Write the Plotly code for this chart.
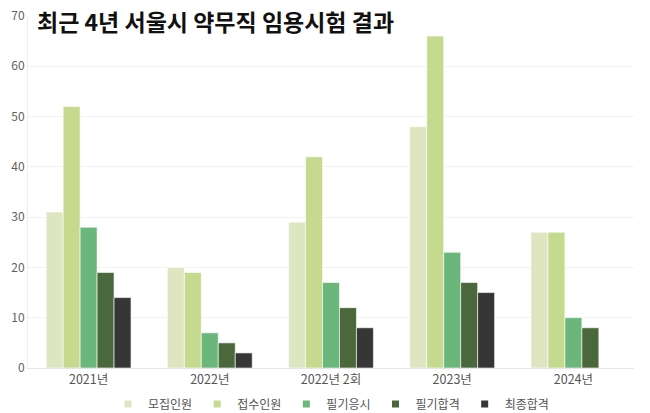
import plotly.graph_objects as go

categories = ["2021년", "2022년", "2022년 2회", "2023년", "2024년"]
series_names = ["모집인원", "접수인원", "필기응시", "필기합격", "최종합격"]
recruit = [31, 20, 29, 48, 27]
applied = [52, 19, 42, 66, 27]
took_exam = [28, 7, 17, 23, 10]
passed_written = [19, 5, 12, 17, 8]
final_pass = [14, 3, 8, 15, None]
colors = ["#dde5c1", "#c6da8f", "#6ab67b", "#4a683b", "#363636"]

fig = go.Figure()
for name, vals, c in zip(series_names, [recruit, applied, took_exam, passed_written, final_pass], colors):
    fig.add_trace(go.Bar(x=categories, y=vals, name=name, legendgroup=name, showlegend=False,
                         marker=dict(color=c, line=dict(color="rgba(255,255,255,0.6)", width=1))))
for name, c in zip(series_names, colors):
    fig.add_trace(go.Scatter(x=[None], y=[None], mode="markers", name=name, legendgroup=name,
                             marker=dict(symbol="square", size=7, color=c)))

fig.update_layout(
    width=650, height=413,
    margin=dict(l=28, r=16, t=16, b=45, autoexpand=False),
    paper_bgcolor="white", plot_bgcolor="white",
    barmode="group", bargap=0.3, bargroupgap=0.0,
    font=dict(family="Noto Sans CJK KR", size=12, color="#666666"),
    yaxis=dict(range=[0, 70], dtick=10, gridcolor="#f2f2f2", zeroline=False,
               showline=True, linecolor="#eeeeee", ticks="", tickfont=dict(size=12, color="#5f5f5f")),
    xaxis=dict(showline=True, linecolor="#e6e6e6", ticks="", tickfont=dict(size=12.5, color="#555555")),
    legend=dict(orientation="h", x=0.5, xanchor="center", y=-0.102, yanchor="middle",
                font=dict(size=12, color="#555555"), itemwidth=30, traceorder="normal",
                tracegroupgap=0),
    annotations=[dict(text="<b>최근 4년 서울시 약무직 임용시험 결과</b>", xref="paper", yref="paper",
                      x=0.012, y=0.985, xanchor="left", yanchor="middle", showarrow=False,
                      font=dict(family="Noto Sans CJK KR", size=23, color="#111111"))],
)
fig.write_html("out.html")
